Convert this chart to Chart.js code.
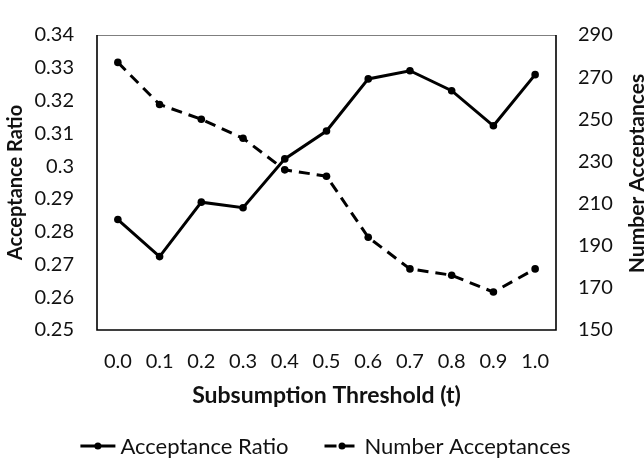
<!DOCTYPE html>
<html>
<head>
<meta charset="utf-8">
<script src="https://cdn.jsdelivr.net/npm/chart.js@4/dist/chart.umd.min.js"></script>
<style>
  html, body { margin: 0; padding: 0; background: #fff; }
  #wrap { width: 644px; height: 458px; }
</style>
</head>
<body>
<div id="wrap"><canvas id="grafico" width="644" height="458"></canvas></div>
<script>
// dados
const thresholds = ['0.0', '0.1', '0.2', '0.3', '0.4', '0.5', '0.6', '0.7', '0.8', '0.9', '1.0'];
const acceptanceRatio = [0.2837, 0.2724, 0.2890, 0.2873, 0.3022, 0.3107, 0.3266, 0.3291, 0.3230, 0.3123, 0.3279];
const numberAcceptances = [277, 257, 250, 241, 226, 223, 194, 179, 176, 168, 179];
const ratioTicks = [0.25, 0.26, 0.27, 0.28, 0.29, 0.3, 0.31, 0.32, 0.33, 0.34];
const countTicks = [150, 170, 190, 210, 230, 250, 270, 290];

const FONT = 'Lato, "Open Sans", sans-serif';
const TXT = '#111';

// moldura da área do gráfico + título do eixo direito + legenda
const extras = {
    id: 'extras',
    beforeDatasetsDraw(chart) {
        const { ctx, chartArea: a } = chart;
        ctx.save();
        ctx.strokeStyle = '#7f7f7f';
        ctx.lineWidth = 1;
        ctx.beginPath();
        ctx.moveTo(a.left, a.top + 0.5);
        ctx.lineTo(a.right, a.top + 0.5);
        ctx.stroke();
        ctx.strokeStyle = '#000';
        ctx.lineWidth = 1.6;
        ctx.beginPath();
        ctx.moveTo(a.left, a.top);
        ctx.lineTo(a.left, a.bottom);
        ctx.lineTo(a.right, a.bottom);
        ctx.lineTo(a.right, a.top);
        ctx.stroke();
        ctx.restore();
    },
    afterDraw(chart) {
        const { ctx, chartArea: a } = chart;
        ctx.save();
        // título do eixo direito, lido de baixo para cima
        ctx.fillStyle = TXT;
        ctx.font = 'bold 21px ' + FONT;
        ctx.textAlign = 'center';
        ctx.textBaseline = 'middle';
        ctx.translate(chart.width - 7, (a.top + a.bottom) / 2 - 9);
        ctx.rotate(-Math.PI / 2);
        ctx.fillText('Number Acceptances', 0, 0);
        ctx.restore();

        // legenda
        ctx.save();
        ctx.font = '22px ' + FONT;
        ctx.textBaseline = 'middle';
        ctx.textAlign = 'left';
        const sample = 35, gapTxt = 5, gapItem = 36, y = 446;
        const items = chart.data.datasets.map(ds => ({ ds, w: ctx.measureText(ds.label).width }));
        const total = items.reduce((s, it) => s + sample + gapTxt + it.w, 0) + gapItem * (items.length - 1);
        let x = (a.left + a.right) / 2 - total / 2 - 1;
        items.forEach(it => {
            ctx.strokeStyle = '#000';
            ctx.lineWidth = 3;
            ctx.setLineDash(it.ds.borderDash && it.ds.borderDash.length ? [12, 6] : []);
            ctx.beginPath();
            ctx.moveTo(x, y);
            ctx.lineTo(x + sample, y);
            ctx.stroke();
            ctx.setLineDash([]);
            ctx.fillStyle = '#000';
            ctx.beginPath();
            ctx.arc(x + sample / 2, y, 3.5, 0, Math.PI * 2);
            ctx.fill();
            ctx.fillStyle = TXT;
            ctx.fillText(it.ds.label, x + sample + gapTxt, y + 1);
            x += sample + gapTxt + it.w + gapItem;
        });
        ctx.restore();
    }
};

const ctx = document.getElementById('grafico').getContext('2d');
const chart = new Chart(ctx, {
    type: 'line',
    data: {
        labels: thresholds,
        datasets: [{
            label: 'Acceptance Ratio',
            data: acceptanceRatio,
            yAxisID: 'y',
            borderColor: '#000',
            backgroundColor: '#000',
            borderWidth: 3,
            pointRadius: 3.8,
            pointBorderWidth: 0,
            pointBackgroundColor: '#000',
            tension: 0
        }, {
            label: 'Number Acceptances',
            data: numberAcceptances,
            yAxisID: 'y2',
            borderColor: '#000',
            backgroundColor: '#000',
            borderWidth: 3,
            borderDash: [11, 7],
            pointRadius: 3.8,
            pointBorderWidth: 0,
            pointBackgroundColor: '#000',
            tension: 0
        }]
    },
    options: {
        responsive: false,
        animation: false,
        devicePixelRatio: 1,
        layout: { padding: { top: 16, bottom: 48, left: 0, right: 0 } },
        plugins: { legend: { display: false }, tooltip: { enabled: false } },
        scales: {
            x: {
                offset: true,
                grid: { display: false, drawTicks: false },
                border: { display: false },
                ticks: { color: TXT, font: { family: FONT, size: 20 }, padding: 20, maxRotation: 0, autoSkip: false },
                title: { display: true, text: 'Subsumption Threshold (t)', color: TXT, font: { family: FONT, size: 23, weight: 'bold' }, padding: { top: 0, bottom: 1 } },
                afterFit: s => { s.height = 80; }
            },
            y: {
                position: 'left',
                min: 0.25, max: 0.34,
                grid: { display: false, drawTicks: false },
                border: { display: false },
                afterBuildTicks: s => { s.ticks = ratioTicks.map(v => ({ value: v })); },
                ticks: { color: TXT, font: { family: FONT, size: 20 }, padding: 23, callback: v => String(+v.toFixed(2)) },
                title: { display: true, text: 'Acceptance Ratio', color: TXT, font: { family: FONT, size: 20, weight: 'bold' }, padding: { top: 4, bottom: 0 } },
                afterFit: s => { s.width = 97; }
            },
            y2: {
                position: 'right',
                min: 150, max: 290,
                grid: { display: false, drawTicks: false },
                border: { display: false },
                afterBuildTicks: s => { s.ticks = countTicks.map(v => ({ value: v })); },
                ticks: { color: TXT, font: { family: FONT, size: 20 }, padding: 22 },
                afterFit: s => { s.width = 88; }
            }
        }
    },
    plugins: [extras]
});
</script>
</body>
</html>
